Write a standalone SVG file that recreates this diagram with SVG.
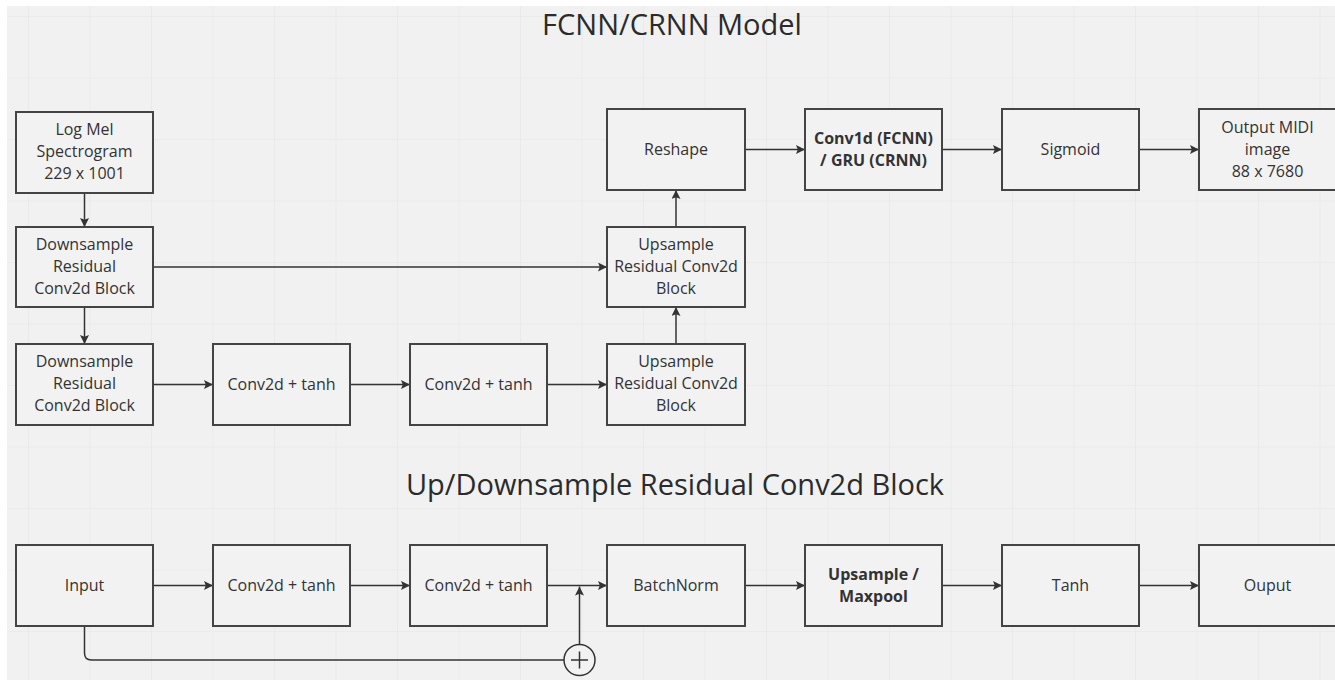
<svg xmlns="http://www.w3.org/2000/svg" width="1335" height="681" viewBox="0 0 1335 681">
  <defs>
    <pattern id="grid" x="28" y="16" width="61.5" height="61.5" patternUnits="userSpaceOnUse">
      <path d="M0 0 V61.5 M0 0 H61.5" fill="none" stroke="#e6e6e6" stroke-width="1.2"/>
    </pattern>
    <marker id="arrow" viewBox="0 0 10 10" refX="10" refY="5" markerWidth="9" markerHeight="9" markerUnits="userSpaceOnUse" orient="auto">
      <path d="M0 0 L10 5 L0 10 L2 5 Z" fill="#333"/>
    </marker>
  </defs>
  <style>
    .box { fill: #f2f2f2; stroke: #444; stroke-width: 2; }
    .lbl { font-family: "Open Sans", "Noto Sans", sans-serif; font-size: 16px; fill: #333; text-anchor: middle; }
    .bold { font-weight: bold; }
    .title { font-family: "Open Sans", "Noto Sans", sans-serif; font-size: 29px; fill: #2b2b2b; text-anchor: middle; }
    .edge { fill: none; stroke: #333; stroke-width: 1.5; }
  </style>

  <!-- canvas -->
  <rect width="1335" height="681" fill="#ffffff"/>
  <rect x="7" y="6" width="1328" height="674" fill="#f1f1f1"/>
  <rect x="7" y="6" width="1328" height="674" fill="url(#grid)"/>

  <!-- section titles -->
  <text class="title" x="672" y="35">FCNN/CRNN Model</text>
  <text class="title" x="675" y="495">Up/Downsample Residual Conv2d Block</text>

  <!-- connectors -->
  <g id="connectors">
    <path class="edge" d="M84.5 193 V227" marker-end="url(#arrow)"/>
    <path class="edge" d="M84.5 307 V344" marker-end="url(#arrow)"/>
    <path class="edge" d="M153 267 H607" marker-end="url(#arrow)"/>
    <path class="edge" d="M153 384.5 H213" marker-end="url(#arrow)"/>
    <path class="edge" d="M350 384.5 H410" marker-end="url(#arrow)"/>
    <path class="edge" d="M547 384.5 H607" marker-end="url(#arrow)"/>
    <path class="edge" d="M676 344 V307" marker-end="url(#arrow)"/>
    <path class="edge" d="M676 227 V190" marker-end="url(#arrow)"/>
    <path class="edge" d="M745 149.5 H805" marker-end="url(#arrow)"/>
    <path class="edge" d="M942 149.5 H1002" marker-end="url(#arrow)"/>
    <path class="edge" d="M1139 149.5 H1199" marker-end="url(#arrow)"/>

    <path class="edge" d="M153 585.5 H213" marker-end="url(#arrow)"/>
    <path class="edge" d="M350 585.5 H410" marker-end="url(#arrow)"/>
    <path class="edge" d="M547 585.5 H607" marker-end="url(#arrow)"/>
    <path class="edge" d="M745 585.5 H805" marker-end="url(#arrow)"/>
    <path class="edge" d="M942 585.5 H1002" marker-end="url(#arrow)"/>
    <path class="edge" d="M1139 585.5 H1199" marker-end="url(#arrow)"/>

    <!-- residual skip path -->
    <path class="edge" d="M84.5 626 V653 Q84.5 660 91.5 660 H564"/>
    <path class="edge" d="M579.5 644.5 V586.5" marker-end="url(#arrow)"/>
    <g id="sum">
      <circle cx="579.5" cy="660" r="15.5" fill="#f2f2f2" stroke="#333" stroke-width="1.5"/>
      <path d="M571 660 H588 M579.5 651.5 V668.5" stroke="#333" stroke-width="1.5"/>
    </g>
  </g>

  <!-- model nodes -->
  <g id="log-mel">
    <rect class="box" x="16" y="112" width="137" height="81"/>
    <text class="lbl" x="84.5" y="135">Log Mel</text>
    <text class="lbl" x="84.5" y="157">Spectrogram</text>
    <text class="lbl" x="84.5" y="179">229 x 1001</text>
  </g>
  <g id="down-1">
    <rect class="box" x="16" y="227" width="137" height="80"/>
    <text class="lbl" x="84.5" y="250">Downsample</text>
    <text class="lbl" x="84.5" y="272">Residual</text>
    <text class="lbl" x="84.5" y="294">Conv2d Block</text>
  </g>
  <g id="down-2">
    <rect class="box" x="16" y="344" width="137" height="81"/>
    <text class="lbl" x="84.5" y="367">Downsample</text>
    <text class="lbl" x="84.5" y="389">Residual</text>
    <text class="lbl" x="84.5" y="411">Conv2d Block</text>
  </g>
  <g id="conv-a">
    <rect class="box" x="213" y="344" width="137" height="81"/>
    <text class="lbl" x="281.5" y="390">Conv2d + tanh</text>
  </g>
  <g id="conv-b">
    <rect class="box" x="410" y="344" width="137" height="81"/>
    <text class="lbl" x="478.5" y="390">Conv2d + tanh</text>
  </g>
  <g id="up-2">
    <rect class="box" x="607" y="344" width="138" height="81"/>
    <text class="lbl" x="676" y="367">Upsample</text>
    <text class="lbl" x="676" y="389">Residual Conv2d</text>
    <text class="lbl" x="676" y="411">Block</text>
  </g>
  <g id="up-1">
    <rect class="box" x="607" y="227" width="138" height="80"/>
    <text class="lbl" x="676" y="250">Upsample</text>
    <text class="lbl" x="676" y="272">Residual Conv2d</text>
    <text class="lbl" x="676" y="294">Block</text>
  </g>
  <g id="reshape">
    <rect class="box" x="607" y="109" width="138" height="81"/>
    <text class="lbl" x="676" y="155">Reshape</text>
  </g>
  <g id="seq-layer">
    <rect class="box" x="805" y="109" width="137" height="81"/>
    <text class="lbl bold" x="873.5" y="144">Conv1d (FCNN)</text>
    <text class="lbl bold" x="873.5" y="166">/ GRU (CRNN)</text>
  </g>
  <g id="sigmoid">
    <rect class="box" x="1002" y="109" width="137" height="81"/>
    <text class="lbl" x="1070.5" y="155">Sigmoid</text>
  </g>
  <g id="midi-out">
    <rect class="box" x="1199" y="109" width="137" height="81"/>
    <text class="lbl" x="1267.5" y="133">Output MIDI</text>
    <text class="lbl" x="1267.5" y="155">image</text>
    <text class="lbl" x="1267.5" y="177">88 x 7680</text>
  </g>

  <!-- block detail nodes -->
  <g id="blk-input">
    <rect class="box" x="16" y="545" width="137" height="81"/>
    <text class="lbl" x="84.5" y="591">Input</text>
  </g>
  <g id="blk-conv-a">
    <rect class="box" x="213" y="545" width="137" height="81"/>
    <text class="lbl" x="281.5" y="591">Conv2d + tanh</text>
  </g>
  <g id="blk-conv-b">
    <rect class="box" x="410" y="545" width="137" height="81"/>
    <text class="lbl" x="478.5" y="591">Conv2d + tanh</text>
  </g>
  <g id="blk-norm">
    <rect class="box" x="607" y="545" width="138" height="81"/>
    <text class="lbl" x="676" y="591">BatchNorm</text>
  </g>
  <g id="blk-resample">
    <rect class="box" x="805" y="545" width="137" height="81"/>
    <text class="lbl bold" x="873.5" y="580">Upsample /</text>
    <text class="lbl bold" x="873.5" y="602">Maxpool</text>
  </g>
  <g id="blk-tanh">
    <rect class="box" x="1002" y="545" width="137" height="81"/>
    <text class="lbl" x="1070.5" y="591">Tanh</text>
  </g>
  <g id="blk-output">
    <rect class="box" x="1199" y="545" width="137" height="81"/>
    <text class="lbl" x="1267.5" y="591">Ouput</text>
  </g>
</svg>
